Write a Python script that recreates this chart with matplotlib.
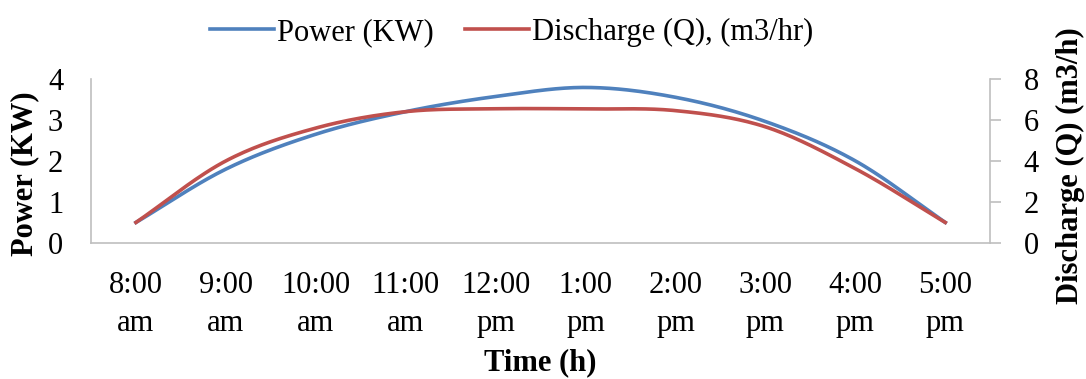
import numpy as np
import matplotlib
matplotlib.use("Agg")
import matplotlib.pyplot as plt

plt.rcParams['font.family'] = ['Liberation Serif', 'DejaVu Serif']

times = ['8:00\nam', '9:00\nam', '10:00\nam', '11:00\nam', '12:00\npm',
         '1:00\npm', '2:00\npm', '3:00\npm', '4:00\npm', '5:00\npm']
power = [0.5, 1.8, 2.65, 3.2, 3.57, 3.79, 3.55, 2.96, 2.0, 0.5]
discharge = [1.0, 4.0, 5.6, 6.4, 6.54, 6.53, 6.45, 5.66, 3.62, 1.0]


def smooth(y, n=30):
    # Excel-like smoothed line (Catmull-Rom through the points)
    y = np.asarray(y, float)
    p = np.concatenate([[2 * y[0] - y[1]], y, [2 * y[-1] - y[-2]]])
    xs, ys = [], []
    for i in range(len(y) - 1):
        t = np.linspace(0, 1, n, endpoint=False)
        p0, p1, p2, p3 = p[i], p[i + 1], p[i + 2], p[i + 3]
        yy = 0.5 * ((2 * p1) + (-p0 + p2) * t + (2 * p0 - 5 * p1 + 4 * p2 - p3) * t ** 2
                    + (-p0 + 3 * p1 - 3 * p2 + p3) * t ** 3)
        xs.append(i + t)
        ys.append(yy)
    xs.append([len(y) - 1])
    ys.append([y[-1]])
    return np.concatenate(xs), np.concatenate(ys)


fs = 22
fig = plt.figure(figsize=(10.86, 3.79), dpi=100)
ax = fig.add_axes([0.0838, 0.359, 0.828, 0.433])
ax2 = ax.twinx()

x = np.arange(len(times))
bx, by = smooth(power)
rx, ry = smooth(discharge)
l1, = ax.plot(bx, by, color='#4F81BD', lw=2.6, label='Power (KW)')
l2, = ax2.plot(rx, ry, color='#C0504D', lw=2.6, label='Discharge (Q), (m3/hr)')

ax.set_xlim(-0.5, len(times) - 0.5)
ax.set_ylim(0, 4)
ax2.set_ylim(0, 8)
ax.set_yticks([0, 1, 2, 3, 4])
ax2.set_yticks([0, 2, 4, 6, 8])
ax.set_xticks(x)
ax.set_xticklabels(times, fontsize=fs, linespacing=1.4)
ax.tick_params(axis='y', labelsize=fs, length=0, pad=20)
ax.tick_params(axis='x', length=0, pad=20)
ax2.tick_params(axis='y', labelsize=fs, length=8, color='#BFBFBF', width=1.2, pad=16)

for a in (ax, ax2):
    for s in a.spines.values():
        s.set_visible(False)
ax.spines['left'].set_visible(True)
ax.spines['bottom'].set_visible(True)
ax2.spines['right'].set_visible(True)
for s in (ax.spines['left'], ax.spines['bottom'], ax2.spines['right']):
    s.set_color('#BFBFBF')
    s.set_linewidth(1.2)

ax.set_ylabel('Power (KW)', fontsize=fs, fontweight='bold')
ax.yaxis.set_label_coords(-0.058, 0.42)
ax2.set_ylabel('Discharge (Q) (m3/h)', fontsize=fs, fontweight='bold')
ax2.yaxis.set_label_coords(1.073, 0.47)
ax.set_xlabel('Time (h)', fontsize=fs, fontweight='bold', labelpad=8)

fig.legend(handles=[l1, l2], loc='upper center', bbox_to_anchor=(0.471, 1.025), ncol=2,
           frameon=False, fontsize=fs, handlelength=2.1, handletextpad=0.1,
           columnspacing=1.0)

fig.savefig('out.png', dpi=100)
